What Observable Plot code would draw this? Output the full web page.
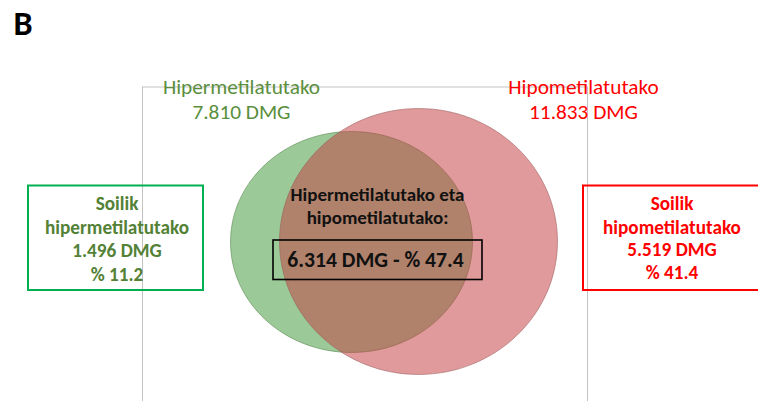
<!DOCTYPE html>
<html>
<head>
<meta charset="utf-8">
<script src="https://cdn.jsdelivr.net/npm/d3@7"></script>
<script src="https://cdn.jsdelivr.net/npm/@observablehq/plot@0.6"></script>
<style>
  html, body { margin: 0; padding: 0; background: #fff; }
  #chart svg { display: block; }
</style>
</head>
<body>
<div id="chart"></div>
<script>
// ---- data ----
const panelLetter = "B";
const setNames = ["Hipermetilatutako", "Hipometilatutako"];
const setTotals = ["7.810", "11.833"];
const onlyHeader = "Soilik";
const onlyNames = ["hipermetilatutako", "hipometilatutako"];
const onlyCounts = ["1.496", "5.519"];
const onlyPercents = ["11.2", "41.4"];
const overlapLines = ["Hipermetilatutako eta", "hipometilatutako:"];
const overlapCount = "6.314";
const overlapPercent = "47.4";
const unit = "DMG";

// ---- layout (pixel space of the 758x401 figure) ----
const W = 758, H = 401;
const FONT = "Carlito, Calibri, 'Liberation Sans', Arial, sans-serif";
const setColors = ["#5a8f3e", "#ff0000"];
const boxTextColors = ["#538135", "#ff0000"];
const boxBorders = ["#00b050", "#ff0000"];
const circleFill = ["rgb(55,150,50)", "rgb(196,63,66)"];
const circleOpacity = [0.5, 0.525];
const circleStroke = ["#4f7f45", "#9a5a5a"];
const circleCenter = [[351, 241.5], [418, 241]];
const circleRy = [110.5, 133];
const circleAspect = [1.095, 1.045];
const headerX = [241, 583];
const boxX = [[28, 203], [583, 775]];
const boxTextX = [116.5, 671.5];
const boxBaselines = [[209, 233, 256, 280], [209, 233, 255.5, 278.5]];

function ellipseSymbol(aspect) {
  const k = 0.5522847498;
  return {
    draw(context, size) {
      const ry = Math.sqrt(size / Math.PI);
      const rx = ry * aspect;
      context.moveTo(rx, 0);
      context.bezierCurveTo(rx, k * ry, k * rx, ry, 0, ry);
      context.bezierCurveTo(-k * rx, ry, -rx, k * ry, -rx, 0);
      context.bezierCurveTo(-rx, -k * ry, -k * rx, -ry, 0, -ry);
      context.bezierCurveTo(k * rx, -ry, rx, -k * ry, rx, 0);
      context.closePath();
    }
  };
}

const marks = [];

// guide lines
marks.push(Plot.ruleY([86.5], {x1: 142, x2: 587, stroke: "#c3c3c3", strokeWidth: 1}));
marks.push(Plot.ruleX([142, 587], {y1: 86.5, y2: H, stroke: "#c3c3c3", strokeWidth: 1}));

// circles
setNames.forEach((name, i) => {
  marks.push(Plot.dot([{name, x: circleCenter[i][0], y: circleCenter[i][1], r: circleRy[i]}], {
    x: "x", y: "y", r: "r",
    symbol: ellipseSymbol(circleAspect[i]),
    fill: circleFill[i], fillOpacity: circleOpacity[i],
    stroke: circleStroke[i], strokeOpacity: 0.55, strokeWidth: 1
  }));
});

// panel letter
marks.push(Plot.text([panelLetter], {
  x: 13, y: 34, text: d => d, textAnchor: "start", lineAnchor: "bottom",
  fontSize: 34, fontWeight: "bold", fill: "#000", fontFamily: FONT
}));

// set headers
setNames.forEach((name, i) => {
  marks.push(Plot.text([name, `${setTotals[i]} ${unit}`], {
    x: headerX[i], y: (d, j) => [93, 118.5][j], text: d => d,
    lineAnchor: "bottom", fontSize: 21.3, fill: setColors[i], fontFamily: FONT
  }));
});

// exclusive boxes
setNames.forEach((name, i) => {
  marks.push(Plot.rect([0], {
    x1: boxX[i][0], x2: boxX[i][1], y1: 185.5, y2: 290,
    fill: "none", stroke: boxBorders[i], strokeWidth: 2
  }));
  const lines = [onlyHeader, onlyNames[i], `${onlyCounts[i]} ${unit}`, `% ${onlyPercents[i]}`];
  marks.push(Plot.text(lines, {
    x: boxTextX[i], y: (d, j) => boxBaselines[i][j], text: d => d,
    lineAnchor: "bottom", fontSize: 19.2, fontWeight: "bold",
    fill: boxTextColors[i], fontFamily: FONT
  }));
});

// overlap label
marks.push(Plot.text(overlapLines, {
  x: 377, y: (d, j) => [200, 223][j], text: d => d,
  lineAnchor: "bottom", fontSize: 19, fontWeight: "bold", fill: "#111", fontFamily: FONT
}));
marks.push(Plot.rect([0], {
  x1: 273, x2: 482, y1: 240, y2: 279.5, fill: "none", stroke: "#000", strokeWidth: 1.6
}));
marks.push(Plot.text([`${overlapCount} ${unit} - % ${overlapPercent}`], {
  x: 375, y: 266.5, text: d => d,
  lineAnchor: "bottom", fontSize: 21.6, fontWeight: "bold", fill: "#111", fontFamily: FONT
}));

const chart = Plot.plot({
  width: W, height: H,
  margin: 0,
  x: {domain: [0, W], range: [0, W], axis: null},
  y: {domain: [0, H], range: [0, H], axis: null},
  r: {type: "identity"},
  style: {background: "#fff", overflow: "hidden"},
  marks
});
document.getElementById("chart").appendChild(chart);
</script>
</body>
</html>
